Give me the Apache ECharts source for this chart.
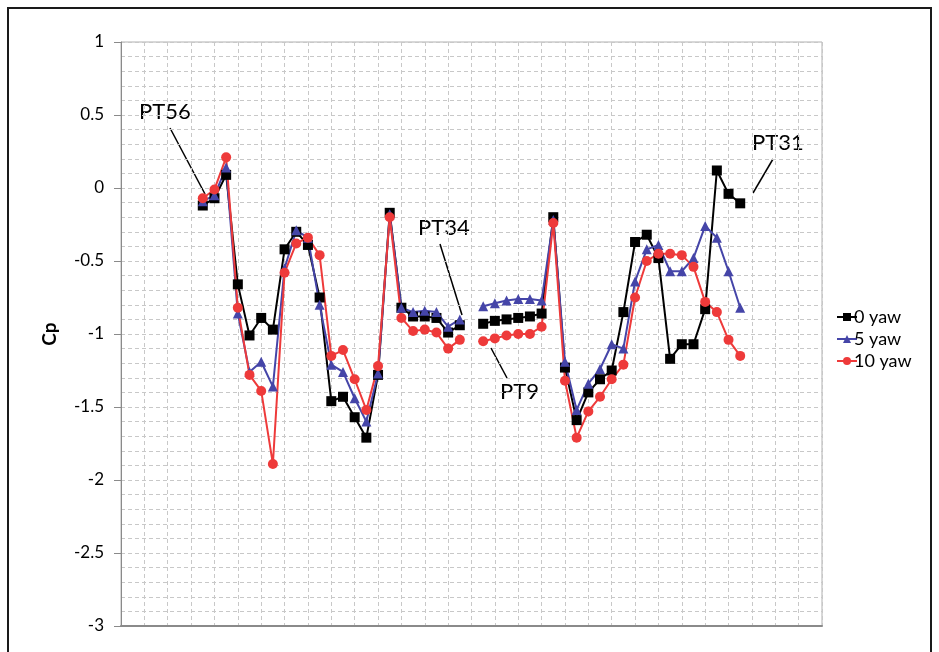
<!DOCTYPE html>
<html>
<head>
<meta charset="utf-8">
<script src="https://cdn.jsdelivr.net/npm/echarts@6/dist/echarts.min.js"></script>
<style>
html,body{margin:0;padding:0;background:#fff;}
#chart{width:939px;height:652px;}
</style>
</head>
<body>
<div id="chart"></div>
<script>
// Tap positions along the surface (category axis, labels hidden)
const tapCount = 61;
const firstTap = 7;
const categories = Array.from({length: tapCount}, (_, i) => String(i));

// Cp values, one per tap starting at firstTap; null = missing tap
const yaw0 = [-0.12,-0.07,0.09,-0.66,-1.01,-0.89,-0.97,-0.42,-0.30,-0.39,-0.75,-1.46,-1.43,-1.57,-1.71,-1.28,-0.17,-0.82,-0.88,-0.88,-0.89,-0.99,-0.94,
  null,
  -0.93,-0.91,-0.90,-0.89,-0.88,-0.86,-0.20,-1.23,-1.59,-1.40,-1.31,-1.25,-0.85,-0.37,-0.32,-0.48,-1.17,-1.07,-1.07,-0.83,0.12,-0.04,-0.105];
const yaw5 = [-0.09,-0.05,0.14,-0.86,-1.26,-1.19,-1.36,-0.55,-0.29,-0.34,-0.80,-1.21,-1.26,-1.44,-1.60,-1.27,-0.18,-0.82,-0.85,-0.84,-0.85,-0.95,-0.90,
  null,
  -0.81,-0.79,-0.77,-0.76,-0.76,-0.77,-0.22,-1.19,-1.52,-1.34,-1.24,-1.07,-1.10,-0.64,-0.42,-0.39,-0.57,-0.57,-0.48,-0.26,-0.34,-0.57,-0.82];
const yaw10 = [-0.07,-0.01,0.21,-0.82,-1.28,-1.39,-1.89,-0.58,-0.38,-0.34,-0.46,-1.15,-1.11,-1.31,-1.52,-1.22,-0.20,-0.89,-0.98,-0.97,-0.99,-1.10,-1.04,
  null,
  -1.05,-1.03,-1.01,-1.00,-1.00,-0.95,-0.24,-1.32,-1.71,-1.53,-1.43,-1.31,-1.21,-0.75,-0.50,-0.45,-0.45,-0.46,-0.54,-0.78,-0.85,-1.04,-1.15];

const seriesNames = ['0 yaw', '5 yaw', '10 yaw'];
const yTicks = {min: -3, max: 1, step: 0.5};

function pad(values) {
  const out = new Array(tapCount).fill(null);
  values.forEach((v, i) => { out[firstTap + i] = v; });
  return out;
}

const FONT = 'Lato, "Open Sans", sans-serif';
const chart = echarts.init(document.getElementById('chart'));

function mkSeries(name, vals, color, symbol, size) {
  return {
    name: name, type: 'line', data: pad(vals), connectNulls: false,
    symbol: symbol, symbolSize: size, showSymbol: true, showAllSymbol: true,
    lineStyle: {color: color, width: 2},
    itemStyle: {color: color, borderWidth: 0},
    animation: false
  };
}

const option = {
  animation: false,
  backgroundColor: '#fff',
  grid: {left: 121, right: 117, top: 42, bottom: 26, show: true, borderColor: '#b0b0b0', borderWidth: 1},
  xAxis: {
    type: 'category', data: categories, boundaryGap: false,
    axisLabel: {show: false}, axisTick: {show: false},
    axisLine: {show: true, onZero: false, lineStyle: {color: '#8a8a8a', width: 2}},
    splitLine: {show: true, interval: 1, lineStyle: {color: '#c8c8c8', type: [4, 3], width: 1}}
  },
  yAxis: {
    type: 'value', min: yTicks.min, max: yTicks.max, interval: yTicks.step,
    name: 'Cp', nameLocation: 'middle', nameGap: 62, nameRotate: 90,
    nameTextStyle: {fontFamily: FONT, fontSize: 19, fontWeight: 'bold', color: '#000'},
    axisLabel: {fontFamily: FONT, fontSize: 17, color: '#000', margin: 17,
      formatter: v => String(Math.round(v * 10) / 10)},
    axisLine: {show: true, lineStyle: {color: '#8a8a8a', width: 1}},
    axisTick: {show: true, length: 7, lineStyle: {color: '#8a8a8a'}},
    splitLine: {show: true, lineStyle: {color: '#c8c8c8', type: [4, 3], width: 1}},
    minorTick: {show: false, splitNumber: 5},
    minorSplitLine: {show: true, lineStyle: {color: '#c8c8c8', type: [4, 3], width: 1}}
  },
  legend: {
    orient: 'vertical', left: 831, top: 303, itemGap: 4,
    itemWidth: 20, itemHeight: 10,
    textStyle: {fontFamily: FONT, fontSize: 18, color: '#000', padding: [0, 0, 0, -8]},
    data: seriesNames
  },
  series: [
    mkSeries(seriesNames[0], yaw0, '#000000', 'rect', 10),
    mkSeries(seriesNames[1], yaw5, '#4545a8', 'triangle', 10),
    mkSeries(seriesNames[2], yaw10, '#ee3a3a', 'circle', 10)
  ],
  graphic: [
    {type: 'rect', shape: {x: 8, y: 8, width: 923, height: 700}, style: {fill: 'none', stroke: '#1a1a1a', lineWidth: 2}, silent: true, z: 100},
    {type: 'text', left: 139, top: 101, style: {text: 'PT56', font: '22px ' + FONT, fill: '#000'}},
    {type: 'line', shape: {x1: 170, y1: 128, x2: 205, y2: 194}, style: {stroke: '#000', lineWidth: 1.5}},
    {type: 'text', left: 418, top: 217, style: {text: 'PT34', font: '22px ' + FONT, fill: '#000'}},
    {type: 'line', shape: {x1: 440, y1: 244, x2: 462, y2: 315}, style: {stroke: '#000', lineWidth: 1.5}},
    {type: 'text', left: 500, top: 381, style: {text: 'PT9', font: '22px ' + FONT, fill: '#000'}},
    {type: 'line', shape: {x1: 491, y1: 348, x2: 507, y2: 378}, style: {stroke: '#000', lineWidth: 1.5}},
    {type: 'text', left: 752, top: 132, style: {text: 'PT31', font: '22px ' + FONT, fill: '#000'}},
    {type: 'line', shape: {x1: 773, y1: 159, x2: 753, y2: 193}, style: {stroke: '#000', lineWidth: 1.5}}
  ]
};
chart.setOption(option);
</script>
</body>
</html>
